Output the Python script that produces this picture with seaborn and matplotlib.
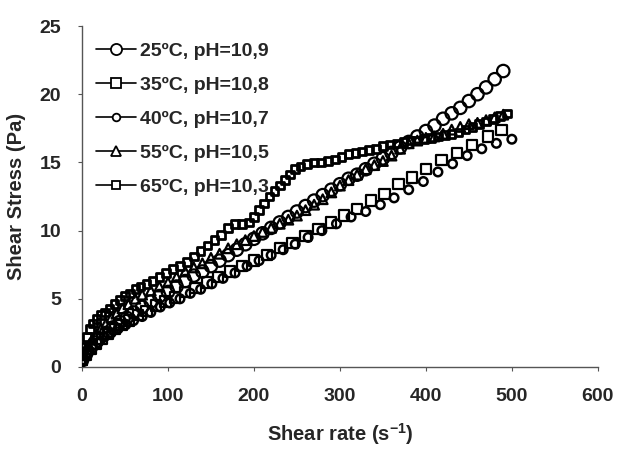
import numpy as np
import pandas as pd
import seaborn as sns
import matplotlib
matplotlib.use("Agg")
import matplotlib.pyplot as plt
from matplotlib.lines import Line2D

labels = ["25ºC, pH=10,9", "35ºC, pH=10,8", "40ºC, pH=10,7", "55ºC, pH=10,5", "65ºC, pH=10,3"]

x25 = [0,5,10,15,20,28,36,44,52,60,70,80,90,100,110,120,130,140,150,160,170,180,190,200,210,220,230,240,250,260,270,280,290,300,310,320,330,340,350,360,370,380,390,400,410,420,430,440,450,460,470,480,490]
y25 = [0.5,1.0,1.4,1.8,2.1,2.5,2.9,3.3,3.6,4.0,4.4,4.8,5.2,5.5,5.9,6.3,6.7,7.0,7.4,7.8,8.2,8.6,9.0,9.4,9.8,10.2,10.6,11.0,11.4,11.8,12.2,12.6,13.0,13.4,13.8,14.1,14.5,14.9,15.3,15.7,16.1,16.5,16.9,17.3,17.7,18.2,18.6,19.0,19.5,20.0,20.5,21.1,21.7]

x35 = [0,5,10,16,23,30,38,46,55,65,75,86,97,108,120,132,145,158,172,186,200,215,230,245,260,275,290,305,320,336,352,368,384,400,418,436,454,472,488]
y35 = [0.5,0.9,1.3,1.7,2.1,2.4,2.8,3.1,3.4,3.8,4.1,4.5,4.8,5.1,5.5,5.8,6.2,6.6,7.0,7.4,7.8,8.2,8.7,9.1,9.6,10.1,10.6,11.1,11.6,12.2,12.7,13.4,13.9,14.5,15.2,15.7,16.3,16.9,17.4]

x40 = [0,6,12,19,26,34,42,51,60,70,80,91,102,114,126,138,151,164,178,192,206,220,234,248,263,279,296,313,330,347,363,380,397,414,431,448,465,482,500]
y40 = [0.5,1.0,1.4,1.8,2.2,2.5,2.8,3.1,3.4,3.7,4.0,4.4,4.7,5.0,5.4,5.7,6.1,6.5,6.9,7.4,7.8,8.2,8.6,9.0,9.5,10.0,10.5,11.0,11.4,11.9,12.4,13.0,13.6,14.3,14.9,15.5,16.0,16.4,16.7]

x55 = [0,4,8,12,17,22,28,34,40,47,54,62,70,80,90,100,110,120,130,140,150,160,170,180,190,200,210,220,230,240,250,260,270,280,290,300,310,320,330,340,350,360,370,380,390,400,410,420,430,440,450,460,470,480,490]
y55 = [0.5,1.1,1.6,2.0,2.4,2.8,3.2,3.6,3.9,4.3,4.6,5.0,5.3,5.6,5.9,6.2,6.6,7.0,7.3,7.6,8.0,8.3,8.7,9.0,9.3,9.6,9.9,10.2,10.5,10.8,11.1,11.5,11.9,12.3,12.8,13.3,13.7,14.1,14.5,14.8,15.1,15.5,16.0,16.4,16.6,16.8,16.9,17.1,17.4,17.6,17.8,17.9,18.1,18.3,18.5]

x65 = [0,3,6,9,13,17,22,27,32,38,44,50,56,62,68,75,82,90,98,106,114,122,130,138,146,154,162,170,178,186,194,200,206,212,218,224,230,236,242,248,254,262,270,278,286,294,302,310,318,326,334,342,350,358,366,374,382,390,398,406,414,422,430,438,446,454,462,470,478,486,494]
y65 = [0.5,1.5,2.2,2.8,3.2,3.5,3.8,4.0,4.3,4.6,4.9,5.2,5.4,5.7,5.9,6.1,6.3,6.6,6.9,7.2,7.4,7.7,8.1,8.5,8.9,9.3,9.7,10.2,10.5,10.5,10.6,11.0,11.5,12.0,12.5,12.9,13.3,13.7,14.1,14.5,14.7,14.9,15.0,15.0,15.1,15.2,15.4,15.6,15.7,15.8,15.9,16.0,16.2,16.3,16.4,16.5,16.6,16.6,16.7,16.8,16.9,17.0,17.1,17.2,17.4,17.6,17.8,18.0,18.2,18.4,18.6]

xticks = [0, 100, 200, 300, 400, 500, 600]
yticks = [0, 5, 10, 15, 20, 25]

series = [(x25, y25), (x35, y35), (x40, y40), (x55, y55), (x65, y65)]
markers = ["o", "s", "o", "^", "s"]
sizes = [80, 55, 38, 48, 30]
lws = [1.6, 1.6, 1.8, 1.6, 2.0]
msizes = [8, 6.5, 5.5, 6.5, 5.5]

sns.set_theme(style="white")
plt.rcParams['font.family'] = ['Liberation Sans', 'DejaVu Sans']
plt.rcParams['mathtext.fontset'] = 'custom'
plt.rcParams['mathtext.bf'] = 'Liberation Sans:bold'
plt.rcParams['mathtext.rm'] = 'Liberation Sans'

fig = plt.figure(figsize=(6.26, 4.69), dpi=100)
ax = fig.add_axes([0.131, 0.2175, 0.824, 0.727])

for (xs, ys), lab, m, s, lw in zip(series, labels, markers, sizes, lws):
    df = pd.DataFrame({"x": xs, "y": ys})
    sns.scatterplot(data=df, x="x", y="y", ax=ax, marker=m, s=s,
                    facecolor="none", edgecolor="black", linewidth=lw, zorder=3)

ax.set_xlim(0, 600)
ax.set_ylim(0, 25)
ax.set_xticks(xticks)
ax.set_yticks(yticks)
ax.tick_params(axis="both", labelsize=14, length=3, width=0.8, color="#555555",
               direction="out", bottom=True, left=True, pad=12)
for t in ax.get_xticklabels() + ax.get_yticklabels():
    t.set_fontweight("bold")
for side in ["top", "right"]:
    ax.spines[side].set_visible(False)
for side in ["left", "bottom"]:
    ax.spines[side].set_color("#555555")
    ax.spines[side].set_linewidth(1.0)

ax.set_xlabel(r"Shear rate (s$^{\mathbf{-1}}$)", fontsize=14.5, fontweight="bold", labelpad=12)
ax.set_ylabel("Shear Stress (Pa)", fontsize=14.5, fontweight="bold", labelpad=10)

handles = [Line2D([0], [0], color="black", lw=1.2, marker=m, markersize=ms,
                  markerfacecolor="white", markeredgecolor="black", markeredgewidth=1.3)
           for m, ms in zip(markers, msizes)]
leg = ax.legend(handles, labels, loc="upper left", bbox_to_anchor=(0.012, 0.975),
                frameon=False, handlelength=2.05, labelspacing=0.84, handletextpad=0.2,
                borderaxespad=0.0,
                prop={"family": "Liberation Sans", "weight": "bold", "size": 14})

fig.savefig("out.png", dpi=100)
